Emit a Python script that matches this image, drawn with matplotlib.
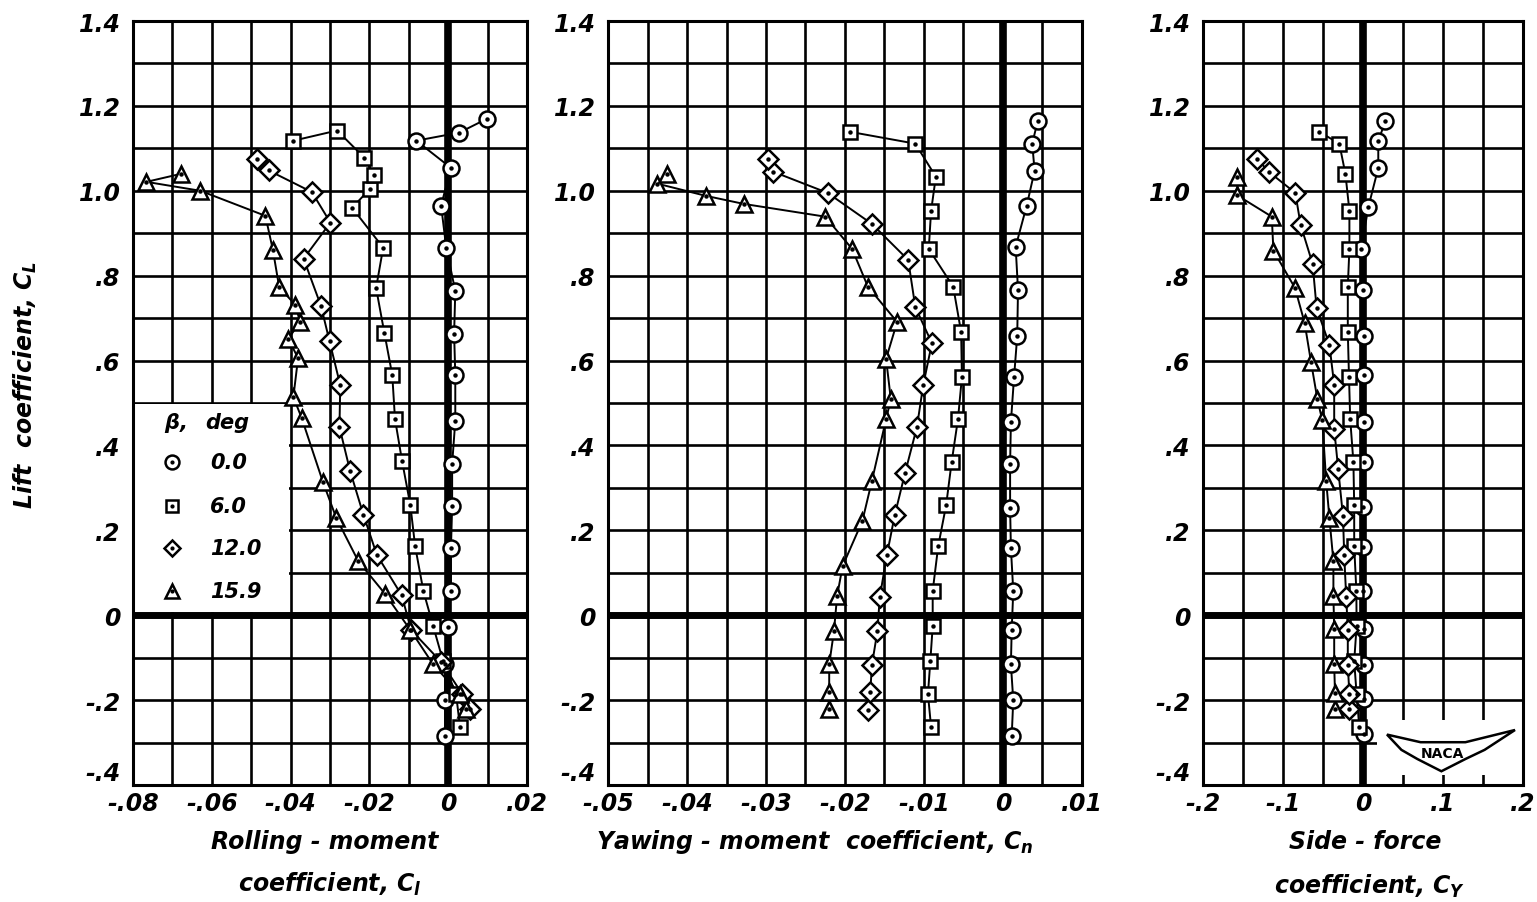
import numpy as np
import matplotlib.pyplot as plt
from matplotlib.patches import Rectangle, Polygon

plt.rcParams['mathtext.fontset'] = 'custom'
plt.rcParams['mathtext.it'] = 'DejaVu Sans:italic:bold'
plt.rcParams['mathtext.rm'] = 'DejaVu Sans:bold'

# beta values and markers
betas = ['0.0', '6.0', '12.0', '15.9']
markers = ['o', 's', 'D', '^']
msizes = [11.5, 10.5, 10, 11.5]

# ---- rolling-moment panel (C_l) ----
cl_CL = [
    [-0.285, -0.200, -0.116, -0.028, 0.057, 0.158, 0.257, 0.356, 0.458, 0.566, 0.663, 0.764, 0.866, 0.965, 1.054, 1.118, 1.137, 1.170],
    [-0.264, -0.186, -0.108, -0.026, 0.057, 0.163, 0.259, 0.363, 0.462, 0.566, 0.665, 0.771, 0.866, 0.960, 1.005, 1.038, 1.078, 1.142, 1.118],
    [-0.222, -0.186, -0.110, -0.035, 0.047, 0.142, 0.236, 0.340, 0.443, 0.542, 0.645, 0.729, 0.840, 0.925, 0.997, 1.048, 1.075],
    [-0.222, -0.186, -0.116, -0.035, 0.050, 0.127, 0.229, 0.314, 0.465, 0.514, 0.606, 0.651, 0.691, 0.731, 0.773, 0.861, 0.941, 1.000, 1.021, 1.040],
]
cl_val = [
    [-0.0008, -0.0008, -0.0008, 0.0000, 0.0007, 0.0007, 0.0010, 0.0010, 0.0018, 0.0018, 0.0015, 0.0018, -0.0005, -0.0018, 0.0007, -0.0081, 0.0028, 0.0099],
    [0.0030, 0.0020, -0.0013, -0.0038, -0.0063, -0.0084, -0.0096, -0.0117, -0.0135, -0.0142, -0.0162, -0.0183, -0.0165, -0.0244, -0.0198, -0.0188, -0.0213, -0.0282, -0.0393],
    [0.0056, 0.0036, -0.0018, -0.0094, -0.0118, -0.0181, -0.0215, -0.0249, -0.0276, -0.0274, -0.0301, -0.0323, -0.0367, -0.0299, -0.0346, -0.0456, -0.0486],
    [0.0045, 0.0030, -0.0038, -0.0096, -0.0160, -0.0228, -0.0284, -0.0318, -0.0372, -0.0393, -0.0381, -0.0406, -0.0376, -0.0388, -0.0429, -0.0445, -0.0464, -0.0629, -0.0766, -0.0678],
]

# ---- yawing-moment panel (C_n) ----
cn_CL = [
    [-0.285, -0.200, -0.116, -0.035, 0.057, 0.158, 0.252, 0.356, 0.455, 0.561, 0.658, 0.767, 0.868, 0.965, 1.047, 1.111, 1.165],
    [-0.264, -0.186, -0.108, -0.026, 0.057, 0.163, 0.259, 0.361, 0.462, 0.561, 0.667, 0.774, 0.863, 0.953, 1.033, 1.111, 1.139],
    [-0.224, -0.182, -0.118, -0.038, 0.042, 0.142, 0.236, 0.335, 0.443, 0.542, 0.641, 0.726, 0.837, 0.922, 0.995, 1.045, 1.075],
    [-0.222, -0.182, -0.116, -0.038, 0.045, 0.116, 0.222, 0.316, 0.462, 0.509, 0.604, 0.691, 0.774, 0.863, 0.939, 0.969, 0.988, 1.017, 1.040],
]
cn_val = [
    [0.0011, 0.0013, 0.0010, 0.0011, 0.0013, 0.0010, 0.0009, 0.0009, 0.0010, 0.0014, 0.0018, 0.0019, 0.0016, 0.0030, 0.0040, 0.0037, 0.0044],
    [-0.0091, -0.0095, -0.0092, -0.0089, -0.0089, -0.0082, -0.0072, -0.0065, -0.0057, -0.0052, -0.0053, -0.0063, -0.0094, -0.0091, -0.0085, -0.0111, -0.0194],
    [-0.0171, -0.0168, -0.0166, -0.0159, -0.0156, -0.0147, -0.0137, -0.0124, -0.0109, -0.0101, -0.0090, -0.0111, -0.0120, -0.0166, -0.0222, -0.0291, -0.0297],
    [-0.0220, -0.0220, -0.0220, -0.0214, -0.0210, -0.0203, -0.0178, -0.0166, -0.0148, -0.0142, -0.0148, -0.0134, -0.0171, -0.0191, -0.0225, -0.0328, -0.0376, -0.0438, -0.0425],
]

# ---- side-force panel (C_Y) ----
cy_CL = [
    [-0.281, -0.198, -0.118, -0.033, 0.057, 0.161, 0.255, 0.361, 0.455, 0.566, 0.658, 0.767, 0.864, 0.961, 1.054, 1.117, 1.164],
    [-0.264, -0.186, -0.108, -0.026, 0.057, 0.163, 0.259, 0.361, 0.462, 0.561, 0.667, 0.774, 0.863, 0.953, 1.040, 1.111, 1.139],
    [-0.222, -0.186, -0.118, -0.035, 0.043, 0.142, 0.233, 0.344, 0.439, 0.543, 0.637, 0.724, 0.828, 0.920, 0.995, 1.045, 1.075],
    [-0.222, -0.184, -0.116, -0.033, 0.045, 0.127, 0.229, 0.316, 0.460, 0.509, 0.597, 0.689, 0.771, 0.859, 0.939, 0.989, 1.033],
]
cy_val = [
    [0.0016, 0.0008, 0.0016, 0.0016, 0.0004, 0.0004, 0.0004, 0.0016, 0.0016, 0.0016, 0.0016, 0.0004, -0.0021, 0.0066, 0.0191, 0.0191, 0.0279],
    [-0.0046, -0.008, -0.011, -0.008, -0.0083, -0.011, -0.011, -0.012, -0.016, -0.0175, -0.019, -0.019, -0.017, -0.017, -0.022, -0.0296, -0.0546],
    [-0.017, -0.017, -0.019, -0.019, -0.021, -0.0235, -0.025, -0.031, -0.036, -0.036, -0.042, -0.058, -0.063, -0.078, -0.0846, -0.118, -0.132],
    [-0.035, -0.035, -0.036, -0.036, -0.037, -0.037, -0.042, -0.046, -0.051, -0.057, -0.065, -0.073, -0.085, -0.112, -0.114, -0.157, -0.157],
]

# axis ticks
y_ticks = [-0.4, -0.2, 0, 0.2, 0.4, 0.6, 0.8, 1.0, 1.2, 1.4]
y_labels = ['-.4', '-.2', '0', '.2', '.4', '.6', '.8', '1.0', '1.2', '1.4']
x1_ticks = [-0.08, -0.06, -0.04, -0.02, 0, 0.02]
x1_labels = ['-.08', '-.06', '-.04', '-.02', '0', '.02']
x2_ticks = [-0.05, -0.04, -0.03, -0.02, -0.01, 0, 0.01]
x2_labels = ['-.05', '-.04', '-.03', '-.02', '-.01', '0', '.01']
x3_ticks = [-0.2, -0.1, 0, 0.1, 0.2]
x3_labels = ['-.2', '-.1', '0', '.1', '.2']

FONT = dict(family='DejaVu Sans', style='italic', weight='bold')

W, H = 1537, 903
fig = plt.figure(figsize=(W / 100, H / 100), dpi=100)


def frac(x0, x1):
    # pixel box -> figure fractions
    return [x0 / W, (H - 786) / H, (x1 - x0) / W, (786 - 22) / H]


def setup(ax, xt, xl, xstep):
    ax.set_xlim(xt[0], xt[-1])
    ax.set_ylim(-0.4, 1.4)
    ax.set_xticks(xt)
    ax.set_xticklabels(xl, fontsize=17, **FONT)
    ax.set_xticks(np.arange(xt[0], xt[-1] + xstep / 2, xstep), minor=True)
    ax.set_yticks(y_ticks)
    ax.set_yticklabels(y_labels, fontsize=17, **FONT)
    ax.set_yticks(np.arange(-0.4, 1.45, 0.1), minor=True)
    ax.tick_params(which='both', length=0)
    ax.tick_params(axis='y', pad=9)
    ax.tick_params(axis='x', pad=4)
    # lowest y label sits a little higher so it clears the first x label
    ax.get_yticklabels()[0].set_va('bottom')
    ax.set_axisbelow(True)
    ax.grid(True, which='both', color='black', lw=1.9)
    ax.axhline(0, color='black', lw=5, zorder=1.5)
    ax.axvline(0, color='black', lw=5.5, zorder=1.5)
    for s in ax.spines.values():
        s.set_linewidth(2.2)


def draw(ax, CLs, vals):
    for i in range(4):
        ax.plot(vals[i], CLs[i], color='black', lw=1.4, zorder=3)
        ax.plot(vals[i], CLs[i], ls='none', marker=markers[i], ms=msizes[i],
                mfc='white', mec='black', mew=1.8, zorder=4)
        ax.plot(vals[i], CLs[i], ls='none', marker='o', ms=2.2,
                color='black', zorder=5)


ax1 = fig.add_axes(frac(133, 527))
ax2 = fig.add_axes(frac(608, 1082))
ax3 = fig.add_axes(frac(1203, 1523))

setup(ax1, x1_ticks, x1_labels, 0.01)
setup(ax2, x2_ticks, x2_labels, 0.005)
setup(ax3, x3_ticks, x3_labels, 0.05)

# legend box (blanks the grid)
ax1.add_patch(Rectangle((-0.0795, 0.008), 0.0392, 0.489, facecolor='white',
                        edgecolor='none', zorder=2))
draw(ax1, cl_CL, cl_val)
draw(ax2, cn_CL, cn_val)
draw(ax3, cy_CL, cy_val)

leg_y = [0.361, 0.257, 0.158, 0.057]
ax1.text(-0.0693, 0.455, r'$\beta$,', fontsize=15, ha='center', va='center', zorder=6, **FONT)
ax1.text(-0.0561, 0.455, 'deg', fontsize=15, ha='center', va='center', zorder=6, **FONT)
for i in range(4):
    ax1.plot([-0.0701], [leg_y[i]], marker=markers[i], ms=msizes[i] - 1.5,
             mfc='white', mec='black', mew=1.8, zorder=6)
    ax1.plot([-0.0701], [leg_y[i]], marker='o', ms=2, color='black', zorder=7)
    ax1.text(-0.0604, leg_y[i], betas[i], fontsize=15, ha='left', va='center',
             zorder=6, **FONT)

# NACA logo corner
ax3.add_patch(Rectangle((0.545, 0.013), 0.452, 0.072, transform=ax3.transAxes,
                        facecolor='white', edgecolor='none', zorder=2))
wing = [(0.575, 0.066), (0.68, 0.056), (0.82, 0.056), (0.975, 0.072), (0.88, 0.046),
        (0.82, 0.034), (0.745, 0.018), (0.67, 0.034), (0.62, 0.046)]
ax3.add_patch(Polygon(wing, closed=True, transform=ax3.transAxes, facecolor='white',
                      edgecolor='black', lw=1.8, zorder=3))
ax3.text(0.748, 0.042, 'NACA', transform=ax3.transAxes, fontsize=10,
         ha='center', va='center', zorder=4, family='DejaVu Sans', weight='bold')

# axis titles
fig.text(25 / W, 1 - 385 / H, r'Lift  coefficient, $C_L$', rotation=90,
         fontsize=17, ha='center', va='center', **FONT)
fig.text(325 / W, 1 - 842 / H, 'Rolling - moment', fontsize=17, ha='center', va='center', **FONT)
fig.text(330 / W, 1 - 884 / H, r'coefficient, $C_l$', fontsize=17, ha='center', va='center', **FONT)
fig.text(815 / W, 1 - 842 / H, r'Yawing - moment  coefficient, $C_n$', fontsize=17,
         ha='center', va='center', **FONT)
fig.text(1365 / W, 1 - 842 / H, 'Side - force', fontsize=17, ha='center', va='center', **FONT)
fig.text(1370 / W, 1 - 886 / H, r'coefficient, $C_Y$', fontsize=17, ha='center', va='center', **FONT)

fig.savefig('out.png', dpi=100, facecolor='white')
